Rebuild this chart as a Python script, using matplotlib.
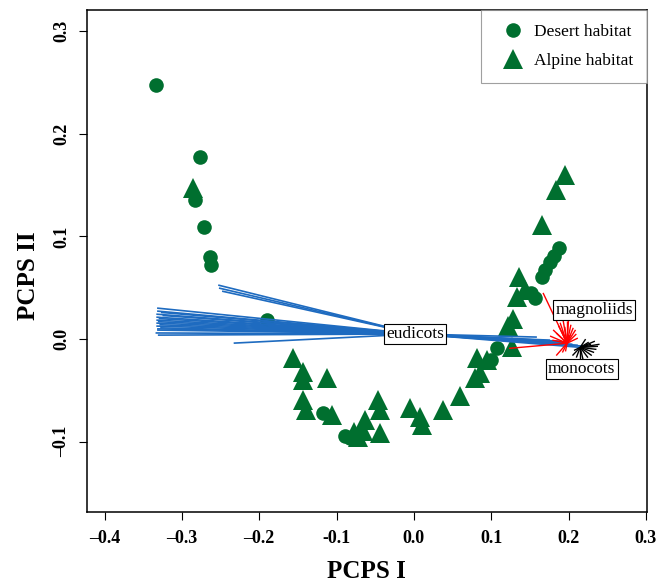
import matplotlib
matplotlib.use("Agg")
import matplotlib.pyplot as plt
from matplotlib.lines import Line2D

plt.rcParams['font.family'] = ['Liberation Serif', 'DejaVu Serif']

GREEN = '#006F2F'
BLUE = '#1E6BC0'

# site scores, desert habitat (circles)
desert_x = [-0.334, -0.277, -0.283, -0.272, -0.263, -0.262, -0.190, -0.117,
            -0.089, -0.083, 0.188, 0.181, 0.176, 0.169, 0.165, 0.152, 0.157,
            0.108, 0.100]
desert_y = [0.247, 0.177, 0.135, 0.109, 0.080, 0.072, 0.019, -0.072,
            -0.094, -0.096, 0.089, 0.081, 0.075, 0.067, 0.060, 0.045, 0.040,
            -0.009, -0.020]

# site scores, alpine habitat (triangles)
alpine_x = [-0.286, 0.196, 0.184, 0.165, 0.136, 0.143, 0.133, 0.128, 0.122,
            -0.156, -0.143, -0.143, -0.112, -0.144, -0.139, -0.106, -0.063,
            -0.066, -0.047, -0.044, -0.044, -0.005, 0.008, 0.010, 0.037,
            0.060, 0.082, 0.086, 0.079, 0.095, 0.127, -0.072, -0.078]
alpine_y = [0.147, 0.160, 0.145, 0.111, 0.060, 0.048, 0.041, 0.020, 0.013,
            -0.018, -0.032, -0.040, -0.038, -0.059, -0.069, -0.074, -0.079,
            -0.089, -0.059, -0.069, -0.091, -0.067, -0.076, -0.084, -0.069,
            -0.055, -0.018, -0.033, -0.038, -0.020, -0.008, -0.095, -0.090]

# species groups: centroid and member scores (spider lines)
eudicots_c = (0.002, 0.005)
eudicots_x = [-0.253, -0.252, -0.248, -0.332, -0.332, -0.333, -0.333, -0.333,
              -0.333, -0.333, -0.332, -0.331, -0.233, -0.330, -0.325, -0.328,
              -0.331, -0.329, -0.334, -0.327, -0.332,
              0.159, 0.189, 0.205, 0.212, 0.222, 0.197, 0.176, 0.200, 0.215]
eudicots_y = [0.0526, 0.0497, 0.0467, 0.0302, 0.0273, 0.0243, 0.0214, 0.0185,
              0.0156, 0.0127, 0.0088, 0.0039, -0.0039, 0.0200, 0.0230, 0.0110,
              0.0170, 0.0140, 0.0060, 0.0260, 0.0100,
              0.002, -0.002, -0.005, -0.006, -0.007, -0.004, -0.001, -0.003,
              -0.008]

magnoliids_c = (0.198, -0.004)
magnoliids_x = [0.167, 0.123, 0.189, 0.193, 0.198, 0.203, 0.209, 0.184, 0.179,
                0.212, 0.192, 0.184, 0.202, 0.180, 0.195, 0.200, 0.206, 0.187,
                0.191, 0.210, 0.176, 0.196]
magnoliids_y = [0.045, -0.009, 0.016, 0.018, 0.018, 0.014, 0.009, 0.006,
                -0.001, 0.001, -0.013, -0.016, 0.004, 0.009, 0.012, 0.020,
                0.011, 0.013, 0.008, 0.005, 0.003, -0.012]

monocots_c = (0.215, -0.008)
monocots_x = [0.234, 0.238, 0.233, 0.225, 0.215, 0.205, 0.222, 0.229, 0.210,
              0.236, 0.230, 0.219, 0.226, 0.240, 0.207]
monocots_y = [-0.002, -0.007, -0.013, -0.018, -0.020, -0.016, 0.000, -0.005,
              -0.018, -0.010, -0.016, -0.021, -0.003, -0.005, -0.011]

# label positions
label_pos = {'eudicots': (0.002, 0.005),
             'magnoliids': (0.233, 0.0287),
             'monocots': (0.217, -0.0292)}

xticks = [-0.4, -0.3, -0.2, -0.1, 0.0, 0.1, 0.2, 0.3]
xticklabels = ['\u20130.4', '\u20130.3', '\u20130.2', '-0.1', '0.0', '0.1', '0.2', '0.3']
yticks = [-0.1, 0.0, 0.1, 0.2, 0.3]
yticklabels = ['\u20130.1', '0.0', '0.1', '0.2', '0.3']

fig = plt.figure(figsize=(6.65, 5.82), dpi=100)
ax = fig.add_axes([0.1304, 0.1208, 0.8421, 0.862])

ax.plot(desert_x, desert_y, 'o', color=GREEN, ms=10.5, mew=0, ls='none')
ax.plot(alpine_x, alpine_y, '^', color=GREEN, ms=14, mew=0, ls='none')


def spider(c, xs, ys, color, lw):
    for x, y in zip(xs, ys):
        ax.plot([c[0], x], [c[1], y], color=color, lw=lw, solid_capstyle='butt')


spider(eudicots_c, eudicots_x, eudicots_y, BLUE, 1.2)
spider(magnoliids_c, magnoliids_x, magnoliids_y, 'red', 1.0)
spider(monocots_c, monocots_x, monocots_y, 'black', 1.0)

for name, (lx, ly) in label_pos.items():
    ax.text(lx, ly, name, fontsize=12.5, ha='center', va='center', zorder=5,
            bbox=dict(boxstyle='square,pad=0.12', fc='white', ec='black', lw=0.8))

ax.set_xlim(-0.423, 0.301)
ax.set_ylim(-0.168, 0.3204)
ax.set_xticks(xticks)
ax.set_xticklabels(xticklabels, fontweight='bold', fontsize=13)
ax.set_yticks(yticks)
ax.set_yticklabels(yticklabels, fontweight='bold', fontsize=13,
                   rotation=90, va='center')
ax.tick_params(axis='x', length=6, width=0.8, pad=7)
ax.tick_params(axis='y', length=6, width=0.8, pad=6)
for sp in ax.spines.values():
    sp.set_linewidth(1.1)

ax.set_xlabel('PCPS I', fontsize=18, fontweight='bold')
ax.set_ylabel('PCPS II', fontsize=18, fontweight='bold')
ax.xaxis.set_label_coords(0.5, -0.097)
ax.yaxis.set_label_coords(-0.083, 0.47)

handles = [Line2D([], [], marker='o', color=GREEN, ms=10.5, mew=0, ls='none'),
           Line2D([], [], marker='^', color=GREEN, ms=14, mew=0, ls='none')]
leg = ax.legend(handles, ['Desert habitat', 'Alpine habitat'], loc='upper right',
                borderaxespad=0, fancybox=False, fontsize=12.5, borderpad=0.8,
                handlelength=2.0, handletextpad=0.2, labelspacing=0.75)
leg.get_frame().set_edgecolor('#888888')
leg.get_frame().set_linewidth(0.8)

fig.savefig('out.png', dpi=100)
